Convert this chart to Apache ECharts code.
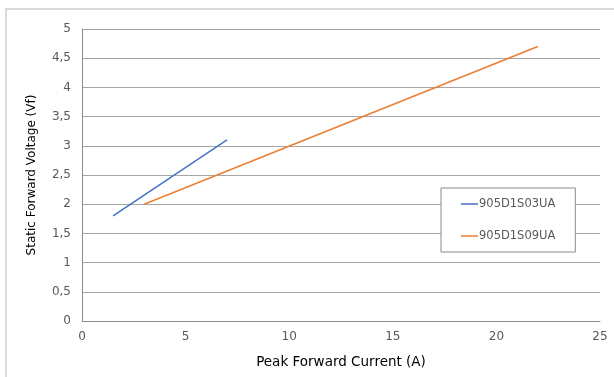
<!DOCTYPE html>
<html><head><meta charset="utf-8">
<script src="https://cdn.jsdelivr.net/npm/echarts@6/dist/echarts.min.js"></script>
<style>html,body{margin:0;padding:0;background:#fff}#c{width:614px;height:377px}</style>
</head><body><div id="c"></div>
<script>
const seriesNames = ['905D1S03UA', '905D1S09UA'];
const s1x = [1.5, 7];
const s1y = [1.8, 3.1];
const s2x = [3, 22];
const s2y = [2.0, 4.7];
const colors = ['#4472C4', '#ED7D31'];

const pairs = (xs, ys) => xs.map((x, i) => [x, ys[i]]);
const chart = echarts.init(document.getElementById('c'));
const font = 'DejaVu Sans';
chart.setOption({
  animation: false,
  graphic: [{type: 'rect', shape: {x: 6, y: 9, width: 640, height: 400}, style: {fill: 'none', stroke: '#d9d9d9', lineWidth: 2}, z: -1}],
  grid: {left: 82, top: 29, right: 14, bottom: 56},
  legend: {
    orient: 'vertical', left: 441, top: 188,
    padding: [10, 20, 10, 20], itemGap: 20,
    borderColor: '#8c8c8c', borderWidth: 1, backgroundColor: '#fff',
    icon: 'rect', itemWidth: 17, itemHeight: 1.5,
    textStyle: {fontFamily: font, fontSize: 11.5, color: '#595959', padding: [0, 0, 0, -4]},
    data: seriesNames
  },
  xAxis: {
    type: 'value', min: 0, max: 25, interval: 5,
    name: 'Peak Forward Current (A)', nameLocation: 'middle', nameGap: 34,
    nameTextStyle: {fontFamily: font, fontSize: 13.5, color: '#000'},
    axisLine: {show: true, lineStyle: {color: '#8c8c8c', width: 1}},
    axisTick: {show: false},
    axisLabel: {fontFamily: font, fontSize: 12, color: '#595959', margin: 10},
    splitLine: {show: false}
  },
  yAxis: {
    type: 'value', min: 0, max: 5, interval: 0.5,
    name: 'Static Forward Voltage (Vf)', nameLocation: 'middle', nameGap: 44,
    nameTextStyle: {fontFamily: font, fontSize: 12, color: '#000'},
    axisLine: {show: true, lineStyle: {color: '#8c8c8c', width: 1}},
    axisTick: {show: false},
    axisLabel: {fontFamily: font, fontSize: 12, color: '#595959', margin: 11,
      formatter: v => String(v).replace('.', ',')},
    splitLine: {lineStyle: {color: '#a6a6a6', width: 1}}
  },
  series: [
    {name: seriesNames[0], type: 'line', data: pairs(s1x, s1y), showSymbol: false, color: colors[0], lineStyle: {width: 1.5}},
    {name: seriesNames[1], type: 'line', data: pairs(s2x, s2y), showSymbol: false, color: colors[1], lineStyle: {width: 1.5}}
  ]
});
</script></body></html>
